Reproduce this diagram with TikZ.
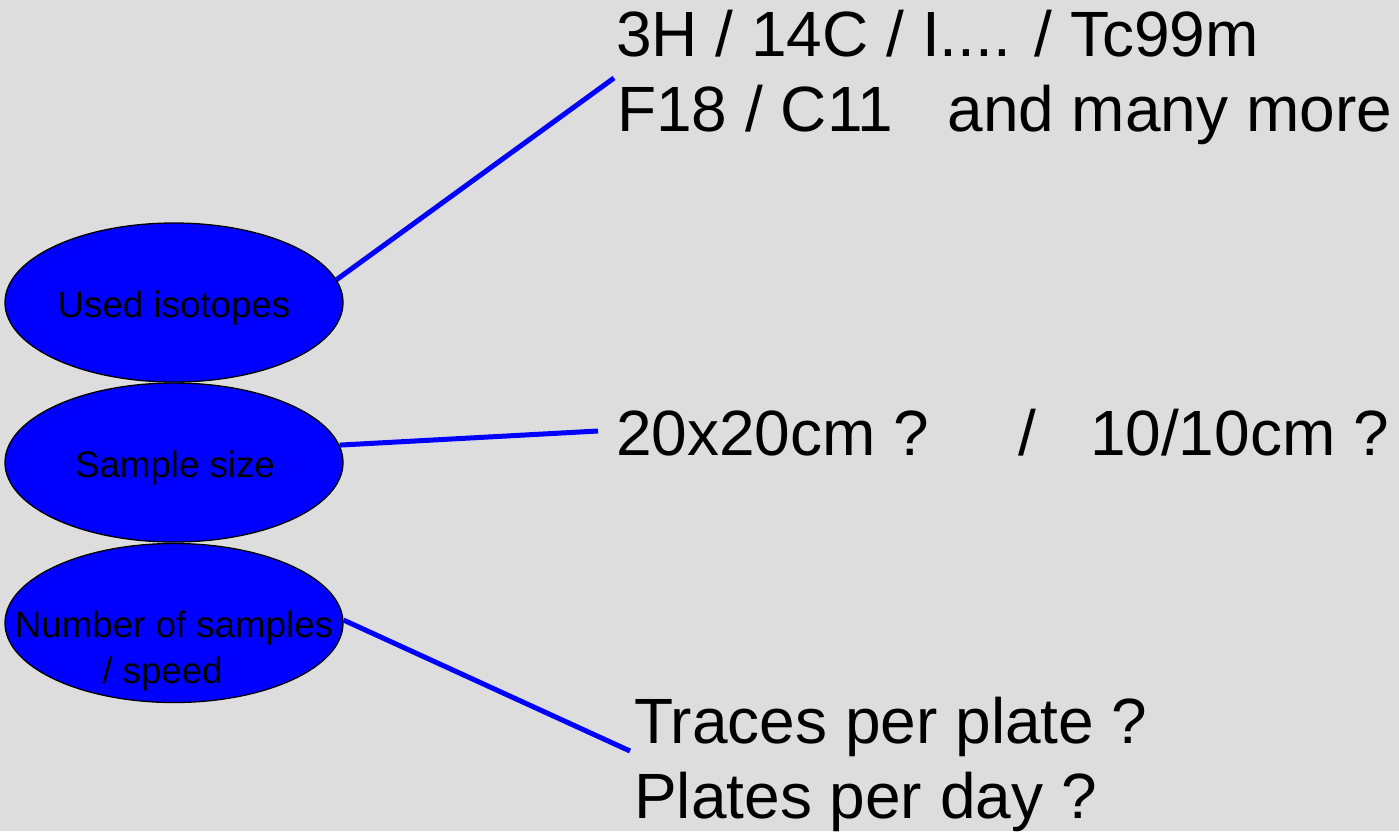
\documentclass[tikz,border=0pt]{standalone}
\usepackage{fontspec}
\setmainfont{Liberation Sans}
\usetikzlibrary{shapes.geometric}
\definecolor{bg}{RGB}{221,221,221}
\definecolor{pureblue}{RGB}{0,0,255}
\tikzset{
  oval/.style={ellipse, draw=black, line width=1.3pt, fill=pureblue, inner sep=0pt,
               minimum width=338pt, minimum height=159pt},
  ovaltext/.style={anchor=base, inner sep=0pt, font=\fontsize{36.7}{44}\selectfont},
  bigtext/.style={anchor=base west, inner sep=0pt, font=\fontsize{64}{75}\selectfont},
  conn/.style={draw=pureblue, line width=5pt}
}
\begin{document}
\begin{tikzpicture}[x=1pt,y=-1pt]
\fill[bg] (0,0) rectangle (1399,831);
\useasboundingbox (0,0) rectangle (1399,831);

\coordinate (c1) at (614,78);
\coordinate (c2) at (598,431);
\coordinate (c3) at (630,751);

\node[oval] (e1) at (174,302.5) {};
\node[oval] (e2) at (174,462.5) {};
\node[oval] (e3) at (174,623) {};

\draw[conn] (e1.8.6) -- (c1);
\draw[conn] (e2.6.5) -- (c2);
\draw[conn] (e3.1) -- (c3);

\node[ovaltext] (e1t) at (174,317) {Used isotopes};
\node[ovaltext] (e2t) at (175,477) {Sample size};
\node[ovaltext] (e3a) at (174,637) {Number of samples};
\node[ovaltext] (e3b) at (162.5,683) {/ speed};

\node[bigtext] (t1) at (616,56) {3H / 14C / I.... / Tc99m};
\node[bigtext] (t2) at (617,131) {F18 / C11\hspace{54pt}and many more};
\node[bigtext] (t3) at (616,455) {20x20cm ?\hspace{89pt}/\hspace{54pt}10/10cm ?};
\node[bigtext] (t4) at (634,743) {Traces per plate ?};
\node[bigtext] (t5) at (634,818) {Plates per day ?};
\end{tikzpicture}
\end{document}
